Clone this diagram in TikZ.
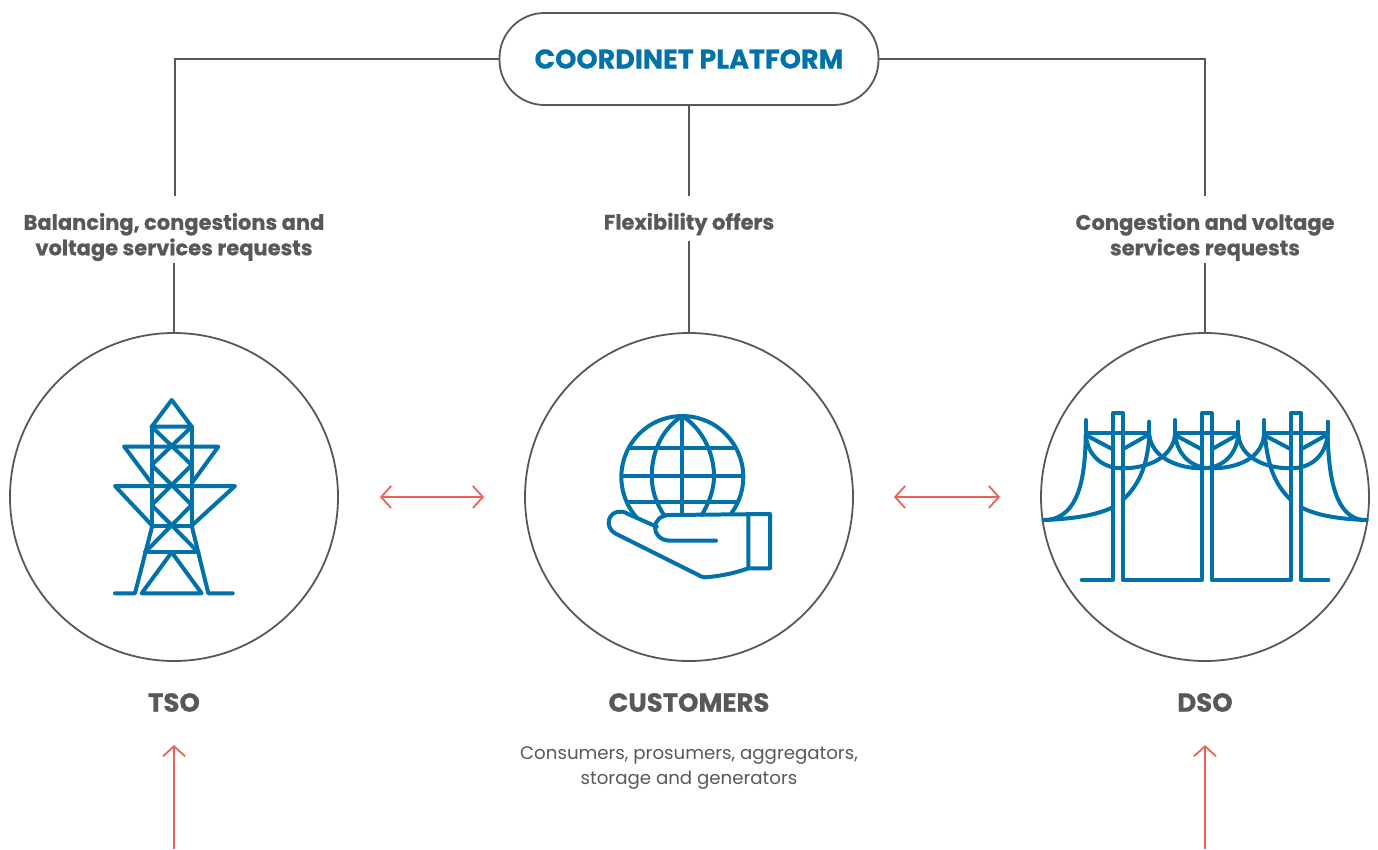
\documentclass[tikz,border=0pt]{standalone}
\usepackage{fontspec}
\setmainfont[BoldFeatures={FakeBold=0.6}]{Poppins}
\usetikzlibrary{arrows.meta}

\definecolor{iconblue}{HTML}{0072A9}
\definecolor{linegray}{HTML}{58585A}
\definecolor{flowred}{HTML}{EC625B}

\tikzset{
  linkline/.style={draw=linegray, line width=1.8pt},
  flowline/.style={draw=flowred, line width=1.8pt, {Straight Barb[length=10pt,width=22pt]}-{Straight Barb[length=10pt,width=22pt]}},
  upline/.style={draw=flowred, line width=1.8pt, -{Straight Barb[length=10pt,width=22pt]}},
  icon/.style={draw=iconblue, line width=4pt, line cap=round, line join=round},
  actor/.style={circle, draw=linegray, line width=1.8pt, minimum size=328pt, inner sep=0pt},
  request/.style={font=\fontsize{21}{25.5}\selectfont\bfseries, text=linegray, align=center, inner sep=0pt},
  title/.style={font=\fontsize{26}{30}\selectfont\bfseries, text=linegray, inner sep=0pt},
  note/.style={font=\fontsize{18.2}{25}\selectfont, text=linegray, align=center, inner sep=0pt}
}

\begin{document}
\begin{tikzpicture}[x=1pt,y=-1pt]
  \useasboundingbox (0,0) rectangle (1378,849);

  % The platform and the three actors
  \node [draw=linegray, line width=1.8pt, rounded corners=45pt, minimum width=379pt, minimum height=92pt, inner sep=0pt,
         font=\fontsize{27}{32}\selectfont\bfseries, text=iconblue] (platform) at (689,59) {\raisebox{-3pt}{COORDINET PLATFORM}};
  \node [actor] (tso) at (174,497) {};
  \node [actor] (customers) at (689,497) {};
  \node [actor] (dso) at (1205,497) {};

  % Texts
  \node [request] (tsoreq) at (174,237) {Balancing, congestions and\\voltage services requests};
  \node [request] (custreq) at (689,224) {Flexibility offers};
  \node [request] (dsoreq) at (1205,237) {Congestion and voltage\\services requests};
  \node [title] (tsoname) at (174,702.5) {TSO};
  \node [title] (custname) at (689,702.5) {CUSTOMERS};
  \node [title] (dsoname) at (1205,702.5) {DSO};
  \node [note] (custnote) at (689,768) {Consumers, prosumers, aggregators,\\storage and generators};

  % Ends of the links, next to the texts
  \coordinate (tsotop) at (175,196);
  \coordinate (tsolow) at (174,263);
  \coordinate (custtop) at (689,196);
  \coordinate (custlow) at (689,241);
  \coordinate (dsotop) at (1205,196);
  \coordinate (dsolow) at (1205,263);
  \coordinate (tsofoot) at (174,849);
  \coordinate (tsohead) at (174,745);
  \coordinate (dsofoot) at (1205,849);
  \coordinate (dsohead) at (1205,745);

  % Links
  \draw [linkline] (platform.west) -| (tsotop);
  \draw [linkline] (platform.south) -- (custtop);
  \draw [linkline] (platform.east) -| (dsotop);
  \draw [linkline] (tsolow) -- (tso.north);
  \draw [linkline] (custlow) -- (customers.north);
  \draw [linkline] (dsolow) -- (dso.north);

  % Red arrows
  \draw [flowline, shorten <=41pt, shorten >=40pt] (tso.east) -- (customers.west);
  \draw [flowline, shorten <=40pt, shorten >=40pt] (customers.east) -- (dso.west);
  \draw [upline] (tsofoot) -- (tsohead);
  \draw [upline] (dsofoot) -- (dsohead);

  %%%%%%%%%%%%%%%%%%%%%%%%%%%%%%%%%%%%%%%%%%%%%%%%%
  %% Tower
  %%%%%%%%%%%%%%%%%%%%%%%%%%%%%%%%%%%%%%%%%%%%%%%%%
  \draw [icon] (151.7,426.7) -- (171.7,400) -- (191.7,426.7) -- cycle;
  \draw [icon] (151.7,426.7) -- (151.7,525.7) -- (191.7,525.7) -- (191.7,426.7);
  \draw [icon] (124.3,446.7) -- (218.3,446.7) -- (191.7,483.3);
  \draw [icon] (124.3,446.7) -- (151.7,483.3);
  \draw [icon] (152.3,525.7) -- (115,486) -- (235,486) -- (191.7,525.7);
  \draw [icon] (151.7,426.7) -- (191.7,465) -- (151.7,505) -- (198.3,552.3);
  \draw [icon] (191.7,426.7) -- (151.7,465) -- (191.7,505) -- (145,552.3);
  \draw [icon] (145,552.3) -- (198.3,552.3);
  \draw [icon] (115,593.3) -- (135,593.3) -- (152.3,525.7);
  \draw [icon] (232.7,593.3) -- (208.3,593.3) -- (191.7,525.7);
  \draw [icon] (171.7,552.3) -- (141.7,593.3) -- (201.7,593.3) -- cycle;

  %%%%%%%%%%%%%%%%%%%%%%%%%%%%%%%%%%%%%%%%%%%%%%%%%
  %% Globe on a hand
  %%%%%%%%%%%%%%%%%%%%%%%%%%%%%%%%%%%%%%%%%%%%%%%%%
  \draw [icon] (682.3,477) ++(138:61) arc (138:396:61);
  \draw [icon] (629.3,448.3) -- (735.7,448.3);
  \draw [icon] (621.7,476) -- (743.3,476);
  \draw [icon] (628,501.7) -- (736.7,501.7);
  \draw [icon] (682.3,416) -- (682.3,515);
  \draw [icon] (682.3,416) .. controls (660,430) and (651.7,455) .. (651.7,476) .. controls (651.7,490) and (656,503) .. (664,515);
  \draw [icon] (682.3,416) .. controls (704,430) and (714,455) .. (714,476) .. controls (714,490) and (709,503) .. (701.7,515);
  \draw [icon] (716,540.7) -- (670,540.7) .. controls (650,540) and (650,515) .. (670,515) -- (770,514) -- (770,568.3) -- (748.3,568.3) -- (748.3,514.5);
  \draw [icon] (748.3,568.3) .. controls (735,573) and (722,576) .. (705,577.3) .. controls (702,577.3) and (700,576) .. (698.3,575)
    -- (615,533.3) .. controls (604,527) and (608,510) .. (622,511.7) .. controls (625,512) and (626,513) .. (628,514) -- (656.7,526.7);

  %%%%%%%%%%%%%%%%%%%%%%%%%%%%%%%%%%%%%%%%%%%%%%%%%
  %% Power lines
  %%%%%%%%%%%%%%%%%%%%%%%%%%%%%%%%%%%%%%%%%%%%%%%%%
  % Poles and ground
  \draw [icon] (1081.7,580) -- (1112.7,580) -- (1112.7,413.3) -- (1122.7,413.3) -- (1122.7,580) -- (1201.7,580) -- (1201.7,413.3)
    -- (1211.7,413.3) -- (1211.7,580) -- (1291,580) -- (1291,413.3) -- (1301,413.3) -- (1301,580) -- (1328.3,580);

  % Cross arms and braces
  \foreach \xa/\xb/\pl/\pr in {1085.7/1149.3/1112.7/1122.7, 1175/1238.3/1201.7/1211.7, 1264/1327.7/1291/1301}
  {
    \draw [icon] (\xa,420) -- (\xa,433.3) -- (\xb,433.3) -- (\xb,421.7);
    \draw [icon] (\xa,435) -- (\pl,449.3);
    \draw [icon] (\xb,434.3) -- (\pr,449.3);
  }

  % Wires between the arms
  \draw [icon] (1085.7,435) .. controls (1088,458) and (1105,468.3) .. (1122,468.3) .. controls (1148,468.3) and (1172,458) .. (1175,435);
  \draw [icon] (1149.3,435) .. controls (1152,458) and (1178,468.3) .. (1201.7,468.3) .. controls (1222,468.3) and (1236,456) .. (1238.3,435);
  \draw [icon] (1175,435) .. controls (1178,456) and (1192,468.3) .. (1211.7,468.3) .. controls (1238,468.3) and (1262,458) .. (1264,435);
  \draw [icon] (1238.3,435) .. controls (1241,458) and (1265,468.3) .. (1291,468.3) .. controls (1309,468.3) and (1325,458) .. (1327.7,435);

  % Wires leaving the picture
  \draw [icon] (1043.3,520) .. controls (1070,519) and (1095,516) .. (1112.7,507.3);
  \draw [icon] (1085.7,437) .. controls (1085,480) and (1078,516) .. (1048,520);
  \draw [icon] (1149.3,437) .. controls (1147,465) and (1140,484) .. (1122.7,500);
  \draw [icon] (1366.7,520) .. controls (1340,519) and (1318,516) .. (1301,507.3);
  \draw [icon] (1327.7,437) .. controls (1329,480) and (1336,516) .. (1362,520);
  \draw [icon] (1265,437) .. controls (1268,465) and (1274,484) .. (1291,500);
\end{tikzpicture}
\end{document}
